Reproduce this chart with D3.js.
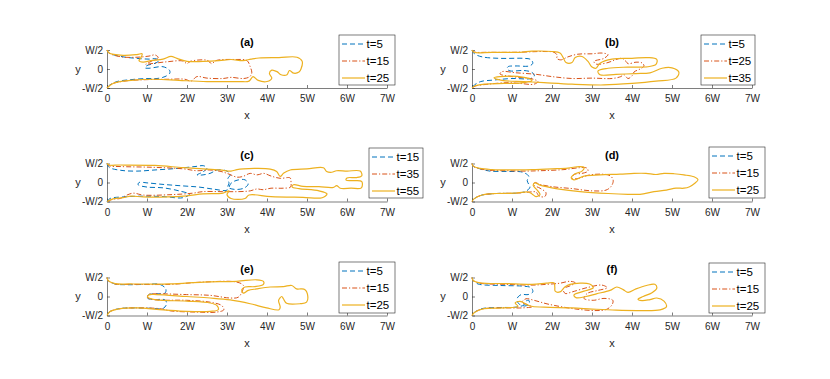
<!DOCTYPE html>
<html><head><meta charset="utf-8">
<script src="https://cdn.jsdelivr.net/npm/d3@7"></script>
<style>body{margin:0;background:#fff} svg{display:block} text{font-family:"Liberation Sans",Arial,Helvetica,sans-serif}</style>
</head><body><svg id="c" width="830" height="379"></svg>
<script>
const xTickValues=[0,1,2,3,4,5,6,7];
const xTickLabels=["0","W","2W","3W","4W","5W","6W","7W"];
const yTickValues=[-0.5,0,0.5];
const yTickLabels=["-W/2","0","W/2"];
const panelTitles=["(a)","(b)","(c)","(d)","(e)","(f)"];
const legendA=["t=5","t=15","t=25"];
const legendB=["t=5","t=25","t=35"];
const legendC=["t=15","t=35","t=55"];
const legendD=["t=5","t=15","t=25"];
const legendE=["t=5","t=15","t=25"];
const legendF=["t=5","t=15","t=25"];

// interface contours, x in units of W, y in units of W
const a_s1=[[0,0.5],[0.05,0.42],[0.4,0.32],[0.75,0.28],[1.05,0.26],[1.22,0.27],[1.3,0.22],[1.2,0.15],[1.0,0.09],[0.95,0.03],[1.05,0.02],[1.4,0.06],[1.56,-0.03],[1.57,-0.11],[1.45,-0.2],[1.25,-0.25],[1.0,-0.25],[0.6,-0.28],[0.25,-0.33],[0.07,-0.42],[0,-0.5]];
const a_s2=[[0,0.5],[0.05,0.42],[0.35,0.32],[0.75,0.31],[1.05,0.34],[1.2,0.37],[1.28,0.3],[1.1,0.2],[0.97,0.12],[1.1,0.14],[1.5,0.19],[1.9,0.21],[2.0,0.14],[2.08,0.2],[2.5,0.23],[2.62,0.14],[2.72,0.22],[3.2,0.25],[3.5,0.22],[3.58,0.06],[3.62,-0.1],[3.57,-0.2],[3.42,-0.25],[3.1,-0.22],[2.9,-0.25],[2.5,-0.24],[2.25,-0.2],[2.1,-0.32],[1.95,-0.27],[1.5,-0.27],[1.0,-0.28],[0.5,-0.31],[0.1,-0.4],[0,-0.5]];
const a_s3=[[0,0.5],[0.05,0.42],[0.4,0.36],[0.75,0.38],[0.88,0.4],[0.85,0.3],[0.8,0.22],[0.9,0.18],[1.1,0.22],[1.4,0.26],[1.6,0.33],[1.75,0.28],[2.0,0.2],[2.4,0.2],[2.8,0.22],[3.1,0.25],[3.4,0.22],[3.6,0.26],[3.8,0.29],[4.3,0.3],[4.75,0.31],[4.88,0.2],[4.85,0.0],[4.8,-0.08],[4.67,-0.11],[4.56,-0.04],[4.5,-0.15],[4.35,-0.15],[4.25,-0.07],[4.12,-0.03],[4.06,-0.12],[4.12,-0.24],[4.0,-0.33],[3.78,-0.3],[3.65,-0.2],[3.55,-0.32],[3.3,-0.33],[2.5,-0.33],[1.8,-0.3],[1.2,-0.27],[0.6,-0.3],[0.15,-0.38],[0,-0.5]];

const b_s1=[[0,0.5],[0.06,0.4],[0.25,0.32],[0.7,0.28],[1.3,0.28],[1.47,0.25],[1.52,0.15],[1.43,0.08],[1.1,0.08],[0.9,0.06],[0.88,0.0],[0.95,-0.05],[1.3,-0.04],[1.5,-0.09],[1.56,-0.18],[1.47,-0.25],[1.0,-0.25],[0.55,-0.29],[0.22,-0.33],[0.06,-0.42],[0,-0.5]];
const b_s2=[[0,0.5],[0.05,0.45],[0.4,0.44],[1.1,0.44],[1.8,0.46],[2.05,0.44],[2.13,0.36],[2.12,0.28],[2.22,0.24],[2.4,0.32],[2.65,0.39],[3.0,0.4],[3.25,0.42],[3.4,0.38],[3.3,0.28],[3.05,0.2],[3.1,0.13],[3.4,0.17],[3.6,0.25],[3.75,0.28],[3.85,0.2],[3.9,0.14],[4.1,0.18],[4.25,0.16],[4.3,0.08],[4.2,0.0],[4.05,-0.08],[4.0,-0.18],[3.9,-0.25],[3.8,-0.15],[3.72,-0.2],[3.5,-0.25],[3.0,-0.24],[2.5,-0.25],[2.0,-0.2],[1.6,-0.14],[1.1,-0.1],[0.75,-0.07],[0.7,-0.13],[1.0,-0.2],[1.5,-0.26],[1.65,-0.33],[1.55,-0.4],[1.2,-0.38],[0.9,-0.36],[0.4,-0.4],[0.08,-0.45],[0,-0.5]];
const b_s3=[[0,0.5],[0.05,0.44],[0.5,0.44],[1.2,0.44],[1.5,0.47],[2.0,0.46],[2.2,0.42],[2.28,0.3],[2.35,0.17],[2.5,0.17],[2.58,0.3],[2.75,0.33],[2.9,0.2],[3.0,0.05],[3.1,0.02],[3.2,0.15],[3.5,0.26],[4.0,0.28],[4.4,0.3],[4.62,0.25],[4.6,0.12],[4.4,0.06],[3.9,0.05],[3.4,0.02],[3.15,-0.05],[3.2,-0.15],[3.6,-0.14],[4.1,-0.12],[4.45,-0.1],[4.75,0.02],[5.0,0.03],[5.17,-0.08],[5.1,-0.24],[4.6,-0.32],[4.0,-0.38],[3.3,-0.42],[2.5,-0.4],[1.8,-0.36],[1.3,-0.33],[0.75,-0.3],[0.55,-0.23],[0.7,-0.2],[1.3,-0.22],[1.5,-0.3],[1.2,-0.37],[0.8,-0.38],[0.3,-0.4],[0.08,-0.44],[0,-0.5]];

const c_s1=[[0,0.5],[0.05,0.4],[0.35,0.32],[0.75,0.3],[1.2,0.33],[1.75,0.37],[2.2,0.42],[2.42,0.44],[2.5,0.38],[2.4,0.28],[2.25,0.2],[2.4,0.2],[2.6,0.25],[2.75,0.33],[3.0,0.3],[3.08,0.2],[3.02,0.1],[3.05,-0.02],[3.02,-0.12],[3.18,-0.18],[3.42,-0.15],[3.53,-0.04],[3.45,0.07],[3.25,0.06],[3.1,-0.02],[3.0,-0.2],[2.7,-0.18],[2.3,-0.12],[1.9,-0.09],[1.4,-0.05],[1.0,-0.01],[0.8,0.0],[0.78,-0.06],[1.0,-0.12],[1.4,-0.14],[1.8,-0.22],[2.06,-0.31],[1.9,-0.4],[1.4,-0.37],[0.9,-0.36],[0.4,-0.38],[0.08,-0.42],[0,-0.5]];
const c_s2=[[0,0.5],[0.05,0.44],[0.33,0.42],[1.15,0.4],[1.9,0.36],[2.25,0.31],[2.55,0.33],[2.85,0.29],[3.05,0.22],[3.25,0.14],[3.4,0.16],[3.58,0.24],[3.75,0.2],[3.92,0.24],[4.1,0.17],[4.33,0.11],[4.58,0.12],[4.6,0.0],[4.59,-0.12],[4.4,-0.15],[4.1,-0.15],[3.9,-0.19],[3.75,-0.17],[3.58,-0.22],[3.3,-0.24],[2.85,-0.24],[2.4,-0.24],[2.15,-0.28],[1.6,-0.32],[0.9,-0.33],[0.66,-0.28],[0.5,-0.33],[0.33,-0.42],[0.15,-0.44],[0,-0.5]];
const c_s3=[[0,0.5],[0.05,0.46],[0.33,0.46],[1.2,0.45],[1.9,0.39],[2.4,0.36],[2.83,0.33],[3.1,0.3],[3.25,0.34],[3.41,0.36],[3.74,0.37],[4.08,0.35],[4.24,0.29],[4.33,0.16],[4.42,0.25],[4.58,0.33],[5.0,0.36],[5.41,0.39],[5.49,0.29],[5.62,0.27],[5.74,0.31],[6.0,0.3],[6.33,0.3],[6.37,0.18],[6.24,0.13],[6.0,0.12],[5.98,0.06],[6.2,0.05],[6.37,0.02],[6.36,-0.14],[6.1,-0.15],[5.83,-0.15],[5.74,-0.08],[5.66,-0.13],[5.3,-0.11],[4.9,-0.1],[4.66,-0.06],[4.63,-0.12],[4.8,-0.16],[5.3,-0.22],[5.5,-0.3],[5.38,-0.4],[4.9,-0.39],[4.1,-0.37],[3.55,-0.33],[3.45,-0.42],[3.1,-0.42],[3.0,-0.32],[3.05,-0.22],[2.9,-0.28],[2.4,-0.3],[2.0,-0.35],[1.5,-0.38],[0.9,-0.38],[0.6,-0.36],[0.4,-0.4],[0.15,-0.43],[0,-0.5]];

const d_s1=[[0,0.5],[0.03,0.43],[0.2,0.36],[0.45,0.3],[0.9,0.29],[1.27,0.27],[1.42,0.16],[1.38,0.05],[1.42,-0.05],[1.45,-0.12],[1.35,-0.23],[1.1,-0.28],[0.6,-0.29],[0.25,-0.33],[0.05,-0.43],[0,-0.5]];
const d_s2=[[0,0.5],[0.03,0.43],[0.2,0.36],[0.45,0.32],[0.9,0.31],[1.3,0.3],[1.7,0.31],[2.3,0.34],[2.7,0.39],[2.87,0.38],[2.9,0.3],[2.75,0.24],[2.55,0.21],[2.5,0.12],[2.62,0.1],[2.9,0.19],[3.2,0.22],[3.45,0.18],[3.53,0.06],[3.48,-0.1],[3.35,-0.2],[3.0,-0.22],[2.5,-0.16],[2.0,-0.11],[1.7,-0.05],[1.57,0.0],[1.55,-0.07],[1.7,-0.15],[1.85,-0.27],[1.82,-0.37],[1.68,-0.36],[1.6,-0.25],[1.45,-0.25],[1.1,-0.28],[0.6,-0.29],[0.25,-0.33],[0.05,-0.43],[0,-0.5]];
const d_s3=[[0,0.5],[0.03,0.43],[0.2,0.37],[0.5,0.34],[1.0,0.33],[1.5,0.34],[2.0,0.36],[2.4,0.38],[2.68,0.42],[2.8,0.4],[2.75,0.3],[2.58,0.23],[2.48,0.13],[2.55,0.07],[2.8,0.17],[3.2,0.2],[3.7,0.22],[4.05,0.24],[4.35,0.24],[4.6,0.21],[4.8,0.24],[5.05,0.23],[5.3,0.2],[5.55,0.15],[5.65,0.07],[5.57,-0.02],[5.44,-0.11],[5.3,-0.15],[5.1,-0.15],[4.86,-0.2],[4.55,-0.24],[4.2,-0.31],[3.9,-0.31],[3.4,-0.29],[2.7,-0.24],[2.1,-0.16],[1.7,-0.07],[1.57,-0.01],[1.53,-0.08],[1.63,-0.2],[1.7,-0.32],[1.6,-0.37],[1.5,-0.3],[1.4,-0.25],[1.1,-0.28],[0.6,-0.29],[0.25,-0.33],[0.05,-0.43],[0,-0.5]];

const e_s1=[[0,0.5],[0.03,0.42],[0.2,0.33],[0.5,0.31],[1.0,0.32],[1.32,0.32],[1.47,0.2],[1.45,0.09],[1.16,0.07],[1.03,0.04],[1.01,-0.04],[1.16,-0.08],[1.45,-0.09],[1.49,-0.19],[1.41,-0.31],[1.1,-0.31],[0.66,-0.3],[0.3,-0.32],[0.07,-0.4],[0,-0.5]];
const e_s2=[[0,0.5],[0.03,0.42],[0.2,0.33],[0.6,0.32],[1.58,0.32],[2.41,0.38],[3.24,0.38],[3.41,0.29],[3.37,0.11],[3.28,-0.02],[3.08,-0.04],[2.58,0.03],[1.99,0.05],[1.24,0.07],[1.03,0.05],[1.02,-0.04],[1.24,-0.09],[1.99,-0.1],[2.58,-0.15],[2.87,-0.24],[2.92,-0.35],[2.74,-0.41],[2.24,-0.41],[1.6,-0.38],[1.32,-0.32],[0.75,-0.3],[0.33,-0.32],[0.07,-0.4],[0,-0.5]];
const e_s3=[[0,0.5],[0.03,0.42],[0.2,0.34],[0.6,0.33],[1.58,0.33],[2.41,0.38],[3.24,0.4],[3.74,0.44],[3.91,0.4],[3.91,0.32],[3.7,0.26],[3.45,0.25],[3.37,0.18],[3.41,0.09],[3.53,0.16],[3.74,0.2],[4.08,0.25],[4.41,0.26],[4.62,0.29],[4.74,0.2],[4.85,0.2],[4.95,0.18],[5.01,0.07],[4.99,-0.15],[4.83,-0.19],[4.49,-0.18],[4.41,-0.06],[4.37,0.0],[4.29,-0.1],[4.33,-0.28],[4.3,-0.35],[3.99,-0.3],[3.58,-0.19],[3.08,-0.09],[2.58,-0.04],[1.99,0.0],[1.24,0.05],[1.04,0.04],[1.02,-0.02],[1.24,-0.09],[1.99,-0.12],[2.58,-0.17],[2.75,-0.24],[2.78,-0.35],[2.58,-0.39],[1.99,-0.39],[1.41,-0.35],[0.75,-0.3],[0.33,-0.32],[0.07,-0.4],[0,-0.5]];

const f_s1=[[0,0.5],[0.03,0.42],[0.15,0.33],[0.7,0.29],[1.3,0.27],[1.48,0.23],[1.52,0.12],[1.4,0.05],[1.23,0.05],[1.13,-0.05],[1.16,-0.18],[1.32,-0.25],[1.43,-0.19],[1.42,-0.1],[1.35,-0.12],[1.3,-0.22],[1.1,-0.28],[0.7,-0.29],[0.25,-0.32],[0.06,-0.42],[0,-0.5]];
const f_s2=[[0,0.5],[0.03,0.42],[0.2,0.35],[0.85,0.32],[1.5,0.3],[1.86,0.32],[2.2,0.35],[2.45,0.4],[2.58,0.36],[2.45,0.28],[2.28,0.2],[2.33,0.08],[2.5,0.12],[2.9,0.24],[3.25,0.3],[3.38,0.23],[3.15,0.16],[2.88,0.08],[2.8,-0.05],[3.03,-0.1],[3.3,-0.05],[3.52,-0.1],[3.5,-0.22],[3.36,-0.34],[3.1,-0.37],[2.6,-0.33],[1.9,-0.2],[1.55,-0.1],[1.35,-0.06],[1.25,-0.15],[1.4,-0.22],[1.5,-0.27],[1.25,-0.3],[0.7,-0.3],[0.25,-0.33],[0.05,-0.43],[0,-0.5]];
const f_s3=[[0,0.5],[0.03,0.42],[0.2,0.36],[0.85,0.34],[1.5,0.32],[1.86,0.35],[2.05,0.36],[2.07,0.25],[2.08,0.14],[2.2,0.12],[2.32,0.25],[2.45,0.32],[2.94,0.33],[3.03,0.23],[2.8,0.14],[2.55,0.04],[2.6,-0.03],[2.85,0.0],[3.11,0.07],[3.45,0.16],[3.62,0.25],[3.78,0.18],[3.9,0.11],[4.1,0.2],[4.36,0.29],[4.57,0.32],[4.62,0.22],[4.5,0.1],[4.28,0.0],[4.15,-0.07],[4.25,-0.11],[4.45,-0.08],[4.62,-0.04],[4.8,-0.12],[4.86,-0.27],[4.7,-0.35],[4.2,-0.37],[3.6,-0.36],[3.0,-0.33],[2.5,-0.3],[1.8,-0.28],[1.45,-0.25],[1.2,-0.13],[1.08,-0.17],[1.15,-0.26],[0.8,-0.3],[0.3,-0.32],[0.06,-0.42],[0,-0.5]];

const panelSeries=[[a_s1,a_s2,a_s3],[b_s1,b_s2,b_s3],[c_s1,c_s2,c_s3],[d_s1,d_s2,d_s3],[e_s1,e_s2,e_s3],[f_s1,f_s2,f_s3]];
const panelLegends=[legendA,legendB,legendC,legendD,legendE,legendF];

// styles & layout
const colors=["#0072BD","#D95319","#EDB120"];
const dashes=["5,3","5,2,1.2,2",null];
const widths=[1,1,1.2];
const colX=[107,472], rowY=[50,163.5,277.5], axW=280, axH=38;
const legendBoxes=[[339,35,56,50],[701,35,54,50],[369,148,54,50],[709,147,56,51],[339,262,56,51],[709,263,56,50]];
const axisColor="#262626";
const FONT='"Liberation Sans",Arial,Helvetica,sans-serif';

const svg=d3.select("#c");
panelSeries.forEach((series,i)=>{
  const x0=colX[i%2], top=rowY[Math.floor(i/2)];
  const x=d3.scaleLinear().domain([0,7]).range([x0,x0+axW]);
  const y=d3.scaleLinear().domain([-0.5,0.5]).range([top+axH,top]);
  const g=svg.append("g");
  const xa=g.append("g").attr("transform",`translate(0,${top+axH})`)
    .call(d3.axisBottom(x).tickValues(xTickValues).tickFormat((d,k)=>xTickLabels[k]).tickSizeInner(-3).tickSizeOuter(0).tickPadding(7));
  const ya=g.append("g").attr("transform",`translate(${x0},0)`)
    .call(d3.axisLeft(y).tickValues(yTickValues).tickFormat((d,k)=>yTickLabels[k]).tickSizeInner(-3).tickSizeOuter(0).tickPadding(4));
  [xa,ya].forEach(a=>{
    a.attr("font-family",FONT).attr("font-size",10);
    a.selectAll("path,line").attr("stroke",axisColor).attr("stroke-width",0.6);
    a.selectAll("text").attr("fill",axisColor);
  });
  const line=d3.line().x(d=>x(d[0])).y(d=>y(d[1])).curve(d3.curveCatmullRom.alpha(0.5));
  series.forEach((s,k)=>{
    g.append("path").attr("d",line(s)).attr("fill","none").attr("stroke",colors[k])
      .attr("stroke-width",widths[k]).attr("stroke-dasharray",dashes[k]).attr("stroke-linejoin","round");
  });
  g.append("text").attr("x",(x(0)+x(7))/2).attr("y",top-4.5).attr("text-anchor","middle")
    .attr("font-size",11).attr("font-weight","bold").attr("fill","#000").text(panelTitles[i]);
  g.append("text").attr("x",(x(0)+x(7))/2).attr("y",top+axH+31).attr("text-anchor","middle")
    .attr("font-size",11).attr("fill",axisColor).text("x");
  g.append("text").attr("x",x0-29).attr("y",y(0)+3.5).attr("text-anchor","middle")
    .attr("font-size",11).attr("fill",axisColor).text("y");
  const [lx,ly,lw,lh]=legendBoxes[i];
  const lg=g.append("g");
  lg.append("rect").attr("x",lx).attr("y",ly).attr("width",lw).attr("height",lh)
    .attr("fill","#fff").attr("stroke",axisColor).attr("stroke-width",0.6);
  panelLegends[i].forEach((lab,k)=>{
    const yy=ly+9+k*17;
    lg.append("line").attr("x1",lx+3).attr("x2",lx+26).attr("y1",yy).attr("y2",yy)
      .attr("stroke",colors[k]).attr("stroke-width",widths[k]).attr("stroke-dasharray",dashes[k]);
    lg.append("text").attr("x",lx+27.5).attr("y",yy+4).attr("font-size",11.5).attr("fill","#000").text(lab);
  });
});
</script></body></html>
